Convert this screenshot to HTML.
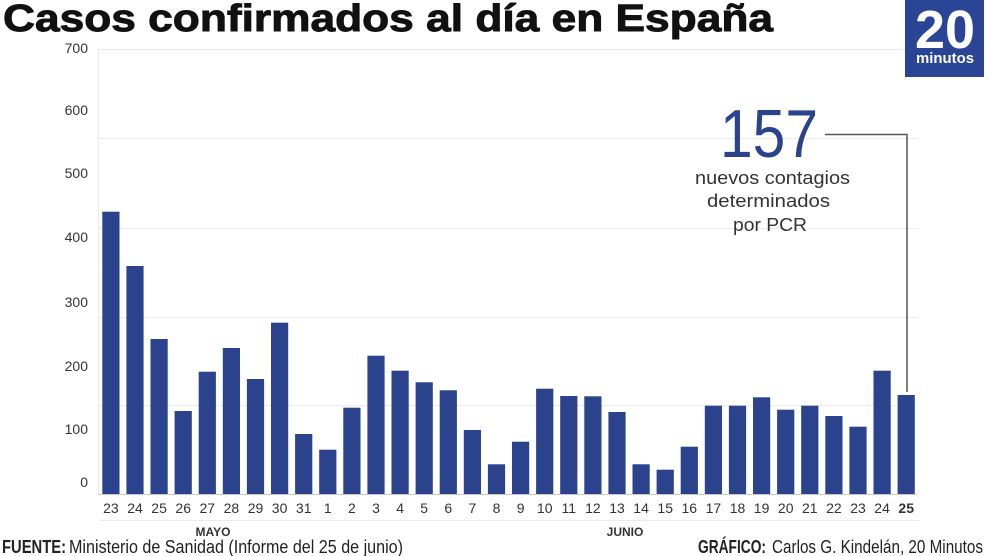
<!DOCTYPE html>
<html><head><meta charset="utf-8"><style>
html,body{margin:0;padding:0;background:#fff;}
svg{display:block;}
text{font-family:"Liberation Sans",sans-serif;}
</style></head><body>
<svg width="990" height="556" viewBox="0 0 990 556" xmlns="http://www.w3.org/2000/svg">
<rect width="990" height="556" fill="#fff"/>
<!-- title -->
<text x="3" y="31" font-size="38" font-weight="bold" fill="#111" stroke="#111" stroke-width="0.9" textLength="770" lengthAdjust="spacingAndGlyphs">Casos confirmados al día en España</text>
<!-- logo -->
<rect x="905" y="0" width="79" height="77" fill="#2a4595"/>
<text x="915" y="48" font-size="54" font-weight="bold" fill="#fff" textLength="60" lengthAdjust="spacingAndGlyphs">20</text>
<text x="916" y="63" font-size="15" font-weight="bold" fill="#fff" textLength="58" lengthAdjust="spacingAndGlyphs">minutos</text>
<!-- gridlines -->
<g stroke="#ebebeb" stroke-width="1">
<line x1="98" y1="49.5" x2="905" y2="49.5"/>
<line x1="98" y1="138.5" x2="917" y2="138.5"/>
<line x1="98" y1="228.5" x2="917" y2="228.5"/>
<line x1="98" y1="317.5" x2="917" y2="317.5"/>
<line x1="98" y1="405.5" x2="917" y2="405.5"/>
<line x1="98.5" y1="49" x2="98.5" y2="494"/>
<line x1="100" y1="520.5" x2="920" y2="520.5"/>
</g>
<line x1="98" y1="494.5" x2="917" y2="494.5" stroke="#c8c8c8" stroke-width="1"/>
<!-- y labels -->
<g font-size="14" fill="#333" text-anchor="end">
<text x="88" y="53">700</text>
<text x="88" y="115">600</text>
<text x="88" y="178">500</text>
<text x="88" y="242">400</text>
<text x="88" y="307">300</text>
<text x="88" y="371">200</text>
<text x="88" y="434">100</text>
<text x="88" y="487">0</text>
</g>
<!-- bars -->
<g fill="#2b428c">
<rect x="102.3" y="211.7" width="17.2" height="282.3"/>
<rect x="126.4" y="266" width="17.2" height="228"/>
<rect x="150.5" y="339" width="17.2" height="155"/>
<rect x="174.6" y="411" width="17.2" height="83"/>
<rect x="198.7" y="371.7" width="17.2" height="122.3"/>
<rect x="222.8" y="348" width="17.2" height="146"/>
<rect x="246.9" y="379" width="17.2" height="115"/>
<rect x="271.0" y="322.7" width="17.2" height="171.3"/>
<rect x="295.1" y="434" width="17.2" height="60"/>
<rect x="319.2" y="449.7" width="17.2" height="44.3"/>
<rect x="343.3" y="407.7" width="17.2" height="86.3"/>
<rect x="367.4" y="355.7" width="17.2" height="138.3"/>
<rect x="391.5" y="370.7" width="17.2" height="123.3"/>
<rect x="415.6" y="382.3" width="17.2" height="111.7"/>
<rect x="439.7" y="390.3" width="17.2" height="103.7"/>
<rect x="463.8" y="430" width="17.2" height="64"/>
<rect x="487.9" y="464.3" width="17.2" height="29.7"/>
<rect x="512.0" y="441.7" width="17.2" height="52.3"/>
<rect x="536.1" y="388.7" width="17.2" height="105.3"/>
<rect x="560.2" y="396" width="17.2" height="98"/>
<rect x="584.3" y="396.3" width="17.2" height="97.7"/>
<rect x="608.4" y="412" width="17.2" height="82"/>
<rect x="632.5" y="464.3" width="17.2" height="29.7"/>
<rect x="656.6" y="469.7" width="17.2" height="24.3"/>
<rect x="680.7" y="446.7" width="17.2" height="47.3"/>
<rect x="704.8" y="405.7" width="17.2" height="88.3"/>
<rect x="728.9" y="405.7" width="17.2" height="88.3"/>
<rect x="753.0" y="397.3" width="17.2" height="96.7"/>
<rect x="777.1" y="409.7" width="17.2" height="84.3"/>
<rect x="801.2" y="405.7" width="17.2" height="88.3"/>
<rect x="825.3" y="416" width="17.2" height="78"/>
<rect x="849.4" y="426.7" width="17.2" height="67.3"/>
<rect x="873.5" y="370.7" width="17.2" height="123.3"/>
<rect x="897.6" y="395" width="17.2" height="99"/>
</g>
<!-- x labels -->
<g font-size="14" fill="#333" text-anchor="middle">
<text x="110.9" y="513">23</text>
<text x="135.0" y="513">24</text>
<text x="159.1" y="513">25</text>
<text x="183.2" y="513">26</text>
<text x="207.3" y="513">27</text>
<text x="231.4" y="513">28</text>
<text x="255.5" y="513">29</text>
<text x="279.6" y="513">30</text>
<text x="303.7" y="513">31</text>
<text x="327.8" y="513">1</text>
<text x="351.9" y="513">2</text>
<text x="376.0" y="513">3</text>
<text x="400.1" y="513">4</text>
<text x="424.2" y="513">5</text>
<text x="448.3" y="513">6</text>
<text x="472.4" y="513">7</text>
<text x="496.5" y="513">8</text>
<text x="520.6" y="513">9</text>
<text x="544.7" y="513">10</text>
<text x="568.8" y="513">11</text>
<text x="592.9" y="513">12</text>
<text x="617.0" y="513">13</text>
<text x="641.1" y="513">14</text>
<text x="665.2" y="513">15</text>
<text x="689.3" y="513">16</text>
<text x="713.4" y="513">17</text>
<text x="737.5" y="513">18</text>
<text x="761.6" y="513">19</text>
<text x="785.7" y="513">20</text>
<text x="809.8" y="513">21</text>
<text x="833.9" y="513">22</text>
<text x="858.0" y="513">23</text>
<text x="882.1" y="513">24</text>
<text x="906.2" y="513" font-weight="bold">25</text>
</g>
<g font-size="12" font-weight="bold" fill="#333" text-anchor="middle">
<text x="213" y="536">MAYO</text>
<text x="625" y="536">JUNIO</text>
</g>
<!-- annotation -->
<polyline points="825,134.5 907,134.5 907,392" fill="none" stroke="#555" stroke-width="1.5"/>
<text x="720" y="157" font-size="68" fill="#2b428c" textLength="98" lengthAdjust="spacingAndGlyphs">157</text>
<g font-size="18" fill="#333">
<text x="695" y="184" textLength="155" lengthAdjust="spacingAndGlyphs">nuevos contagios</text>
<text x="707" y="207" textLength="123" lengthAdjust="spacingAndGlyphs">determinados</text>
<text x="733" y="231" textLength="74" lengthAdjust="spacingAndGlyphs">por PCR</text>
</g>
<!-- footer -->
<g font-size="18" fill="#222">
<text x="2" y="553" font-weight="bold" textLength="64" lengthAdjust="spacingAndGlyphs">FUENTE:</text>
<text x="69" y="553" textLength="334" lengthAdjust="spacingAndGlyphs">Ministerio de Sanidad (Informe del 25 de junio)</text>
<text x="698" y="553" font-weight="bold" textLength="68" lengthAdjust="spacingAndGlyphs">GRÁFICO:</text>
<text x="772" y="553" textLength="211" lengthAdjust="spacingAndGlyphs">Carlos G. Kindelán, 20 Minutos</text>
</g>
</svg>
</body></html>
